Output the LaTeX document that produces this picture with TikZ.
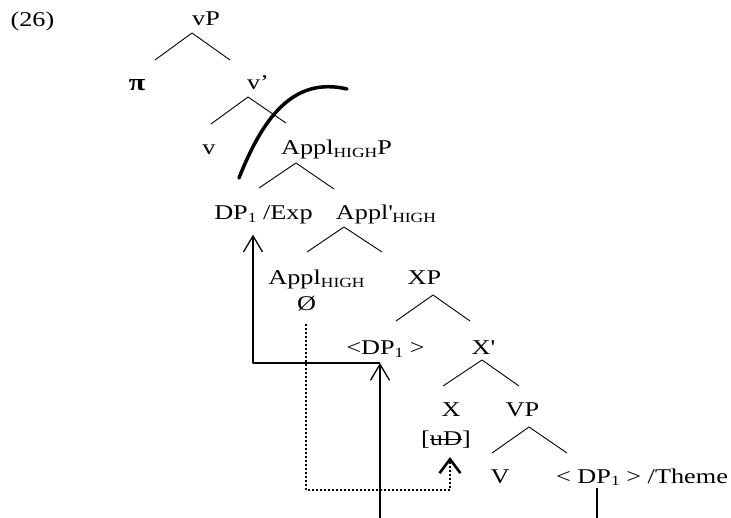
\documentclass[tikz,border=0pt]{standalone}
\usepackage{fontspec}
\setmainfont{Liberation Serif}[FakeStretch=1.25]
\usetikzlibrary{arrows.meta,calc}
\newcommand{\lo}[1]{\raisebox{-2.5pt}{\fontsize{14}{14}\selectfont #1}}
\newcommand{\crossout}[1]{\setbox0\hbox{#1}\rlap{\raisebox{5.5pt}{\rule{\wd0}{1.2pt}}}\box0}
\tikzset{
  lbl/.style={anchor=base, inner sep=0pt},
  branch/.style={line width=0.9pt},
  mv/.style={line width=1.3pt, -{Straight Barb[length=16pt,width=19pt]}},
  agree/.style={line width=2pt, dash pattern=on 2pt off 2pt,
    -{Straight Barb[length=14pt,width=21pt,line width=2.6pt]}}
}
\begin{document}
\begin{tikzpicture}[x=1pt, y=-1pt, font=\fontsize{21}{25}\selectfont, line join=round]
			\useasboundingbox (0,0) rectangle (731,518);
			
			% Labels of the tree
			\node[lbl] (ex) at (32.5,27) {(26)};
			\node[lbl] (vP) at (206,26) {vP};
			\node[lbl] (pi) at (137,91) {\textbf{\fontsize{24}{24}\selectfont π}};
			\node[lbl] (vbar) at (258,90) {v’};
			\node[lbl] (v) at (209,155) {v};
			\node[lbl] (applP) at (336.5,155) {Appl\lo{HIGH}P};
			\node[lbl] (dpexp) at (263.5,220) {DP\lo{1} /Exp};
			\node[lbl] (applbar) at (386,220) {Appl\textquotesingle\lo{HIGH}};
			\node[lbl] (appl) at (316.5,285) {Appl\lo{HIGH}};
			\node[lbl] (empty) at (306.5,311) {Ø};
			\node[lbl] (XP) at (424.5,285) {XP};
			\node[lbl] (dptrace) at (385.5,355) {<DP\lo{1} >};
			\node[lbl] (Xbar) at (483,355) {X\textquotesingle};
			\node[lbl] (X) at (451,417) {X};
			\node[lbl] (VP) at (522.5,417) {VP};
			\node[lbl] (feat) at (446,446) {[\crossout{uD}]};
			\node[lbl] (V) at (500,483) {V};
			\node[lbl] (theme) at (642,483) {< DP\lo{1} > /Theme};
			
			% Branching points
			\coordinate (vPtop) at (192,33);
			\coordinate (vbartop) at (248,97);
			\coordinate (applPtop) at (296,163);
			\coordinate (applbartop) at (344,227);
			\coordinate (XPtop) at (433,295);
			\coordinate (Xbartop) at (482,360);
			\coordinate (VPtop) at (529,427);
			
			% Branches
			\draw[branch] ([shift={(-37,27)}]vPtop) -- (vPtop) -- +(38,27);
			\draw[branch] ([shift={(-37,27)}]vbartop) -- (vbartop) -- +(38,26);
			\draw[branch] ([shift={(-37,25)}]applPtop) -- (applPtop) -- +(38,26);
			\draw[branch] ([shift={(-37,25)}]applbartop) -- (applbartop) -- +(38,25);
			\draw[branch] ([shift={(-37,26)}]XPtop) -- (XPtop) -- +(37,26);
			\draw[branch] ([shift={(-39,26)}]Xbartop) -- (Xbartop) -- +(37,26);
			\draw[branch] ([shift={(-37,26)}]VPtop) -- (VPtop) -- +(38,26);
			
			% Phase boundary
			\draw[line width=3.5pt, line cap=round] (239,178) .. controls (262,120) and (292,76) .. (347,89);
			
			% Movement
			\coordinate (low1) at (380,518);
			\coordinate (land) at (380,363);
			\coordinate (turn) at (253,363);
			\coordinate (low2) at (597,518);
			\draw[mv] (low1) -- (land);
			\draw[mv] (land) -- (turn) -- ($(turn |- dpexp.south)+(0,10)$);
			\draw[line width=1.3pt] ($(theme.south -| low2)+(0,2)$) -- (low2);
			
			% Agree
			\coordinate (agreecorner) at (306,490);
			\draw[agree] ($(empty.south -| agreecorner)+(0,12)$) -- (agreecorner) -- ($(agreecorner -| feat.south)+(4,0)$) -- ($(feat.south)+(4,8)$);
		\end{tikzpicture}
\end{document}
